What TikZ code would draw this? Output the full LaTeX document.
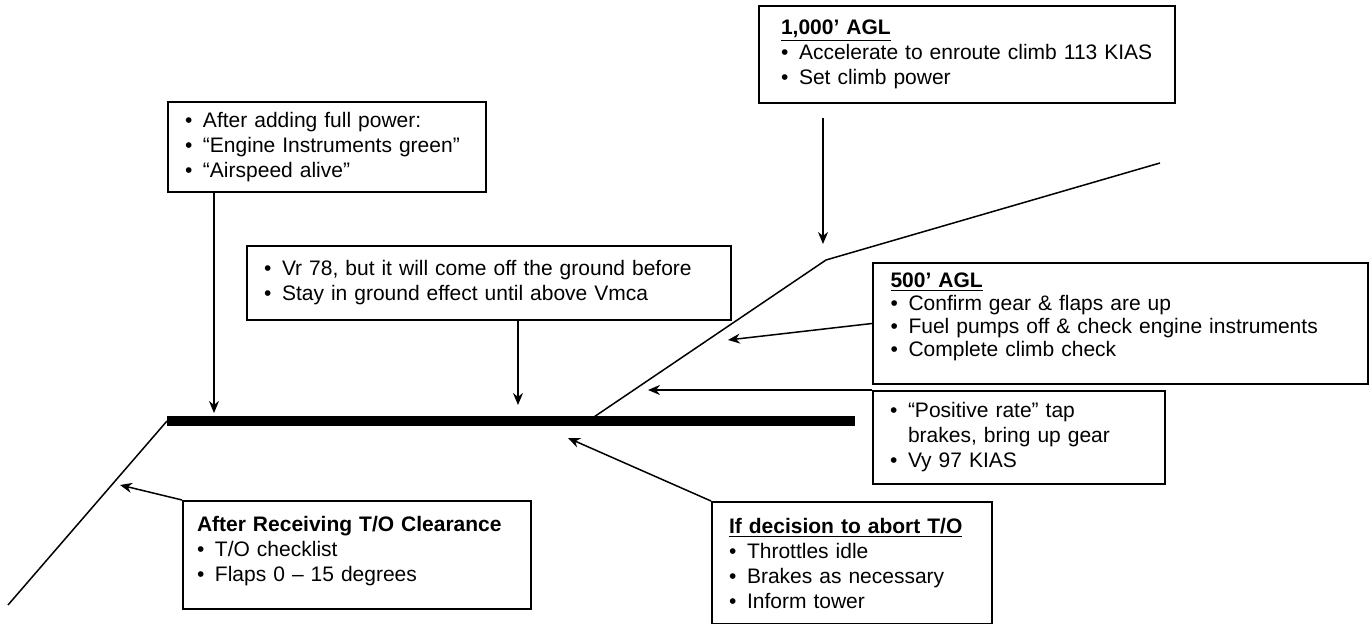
\documentclass[tikz,border=0pt]{standalone}
\usepackage{fontspec}
\setmainfont{Liberation Sans}
\usetikzlibrary{arrows.meta}
\newcommand{\bul}{\makebox[9pt][l]{\textbullet}}
\tikzset{
  infobox/.style={draw,rectangle,line width=1pt,anchor=north west,align=left,inner xsep=8pt,font=\fontsize{10.5}{12.5}\selectfont},
  pointer/.style={line width=0.75pt,-{Stealth[length=6pt,width=5pt]}},
  track/.style={line width=0.75pt}
}

\begin{document}
\begin{tikzpicture}[x=0.5pt,y=-0.5pt]
\useasboundingbox (0,0) rectangle (1371,624);
\node[infobox,minimum width=205pt,minimum height=48.5pt,text width=186pt,inner xsep=11pt] (agl1000) at (758,5) {\underline{\textbf{1,000’ AGL}}\\ \bul Accelerate to enroute climb 113 KIAS\\ \bul Set climb power};
\node[infobox,minimum width=159pt,minimum height=45pt,text width=142pt] (power) at (167,101) {\bul After adding full power:\\ \bul “Engine Instruments green”\\ \bul “Airspeed alive”};
\node[infobox,minimum width=242pt,minimum height=37pt,text width=225pt] (vr) at (246,245) {\bul Vr 78, but it will come off the ground before\\ \bul Stay in ground effect until above Vmca};
\node[infobox,minimum width=247.5pt,minimum height=60.5pt,text width=230pt,inner ysep=2pt,font=\fontsize{10.5}{11.5}\selectfont] (agl500) at (872,262) {\underline{\textbf{500’ AGL}}\\ \bul Confirm gear \& flaps are up\\ \bul Fuel pumps off \& check engine instruments\\ \bul Complete climb check\\[-3pt]\mbox{}};
\node[infobox,minimum width=146pt,minimum height=46.5pt,text width=129pt] (posrate) at (872,390) {\bul “Positive rate” tap\\ \hspace*{9pt}brakes, bring up gear\\ \bul Vy 97 KIAS};
\node[infobox,minimum width=170pt,minimum height=54pt,text width=160pt,inner xsep=7pt] (clear) at (182,500) {\textbf{After Receiving T/O Clearance}\\ \bul T/O checklist\\ \bul Flaps 0 – 15 degrees\\[-6pt]\mbox{}};
\node[infobox,minimum width=140pt,minimum height=61pt,text width=123pt] (abort) at (711,501) {\underline{\textbf{If decision to abort T/O}}\\ \bul Throttles idle\\ \bul Brakes as necessary\\ \bul Inform tower};
\coordinate (gnd0) at (8,605);
\coordinate (rw1) at (167,421);
\coordinate (rw2) at (855,421);
\coordinate (lift) at (588,421);
\coordinate (lvl) at (826,260);
\coordinate (top) at (1160,163);
\coordinate (s1000) at (823,118);
\coordinate (t1000) at (823,244);
\coordinate (tpower) at (214,413);
\coordinate (tvr) at (518,405);
\coordinate (t500) at (728,340);
\coordinate (tpos) at (648,390);
\coordinate (tclear) at (120,485);
\coordinate (tabort) at (568,438);
\draw[line width=5pt] (rw1) -- (rw2);
\draw[track] (gnd0) -- (rw1);
\draw[track] (lift) -- (lvl) -- (top);
\draw[pointer] (s1000) -- (t1000);
\draw[pointer] (tpower |- power.south) -- (tpower);
\draw[pointer] (tvr |- vr.south) -- (tvr);
\draw[pointer] (agl500.west) -- (t500);
\draw[pointer] (posrate.north west) -- (tpos);
\draw[pointer] (clear.north west) -- (tclear);
\draw[pointer] (abort.north west) -- (tabort);
\end{tikzpicture}
\end{document}
